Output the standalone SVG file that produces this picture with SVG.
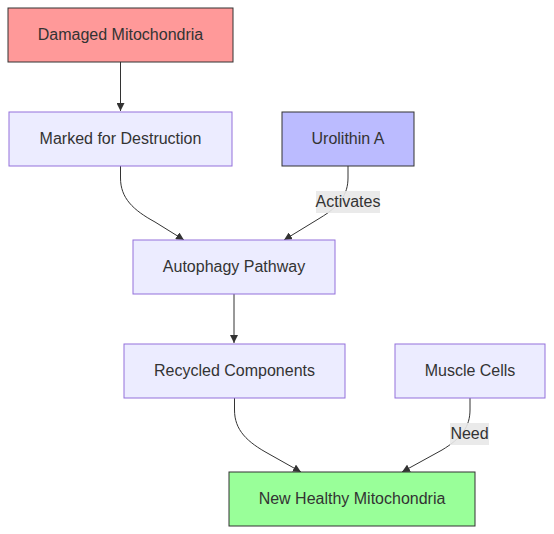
<svg xmlns="http://www.w3.org/2000/svg" width="554" height="534" viewBox="0 0 554 534">
<style>
.node rect{stroke-width:1px}
.def rect{fill:#ececff;stroke:#9370db}
.txt{font-family:"Liberation Sans",Arial,sans-serif;font-size:16px;fill:#333;text-anchor:middle;dominant-baseline:central}
.edge{fill:none;stroke:#333;stroke-width:1px}
.lbl{fill:#e8e8e8;opacity:0.9}
</style>
<defs>
<marker id="arr" viewBox="0 0 10 10" refX="10" refY="5" markerWidth="8" markerHeight="8" markerUnits="userSpaceOnUse" orient="auto">
<path d="M0,0 L10,5 L0,10 z" fill="#333"/>
</marker>
</defs>
<rect width="554" height="534" fill="#fff"/>
<g id="connectors">
<path class="edge" d="M120.5,62 L120.5,111" marker-end="url(#arr)"/>
<path class="edge" d="M120.5,166 L120.5,178 C120.5,198 133,210 155,222 L184,240" marker-end="url(#arr)"/>
<path class="edge" d="M348,166 L348,178 C348,194 340,206 320,218 L284,240" marker-end="url(#arr)"/>
<path class="edge" d="M234,294 L234,343" marker-end="url(#arr)"/>
<path class="edge" d="M234.5,398 L234.5,410 C234.5,430 247,442 269,454 L301,472" marker-end="url(#arr)"/>
<path class="edge" d="M470,398 L470,410 C470,426 462,438 442,450 L402,472" marker-end="url(#arr)"/>
<g id="label-activates">
<rect class="lbl" x="316" y="191" width="64" height="22"/>
<text class="txt" x="348" y="201.5">Activates</text>
</g>
<g id="label-need">
<rect class="lbl" x="450" y="423" width="39" height="22"/>
<text class="txt" x="469.5" y="433.5">Need</text>
</g>
</g>
<g id="damaged" class="node">
<rect x="8" y="8" width="225" height="54" fill="#ff9999" stroke="#333"/>
<text class="txt" x="120.5" y="34.5">Damaged Mitochondria</text>
</g>
<g id="marked" class="node def">
<rect x="9" y="112" width="223" height="54"/>
<text class="txt" x="120.5" y="138.5">Marked for Destruction</text>
</g>
<g id="urolithin" class="node">
<rect x="282" y="112" width="132" height="54" fill="#bbbbff" stroke="#333"/>
<text class="txt" x="348" y="138.5">Urolithin A</text>
</g>
<g id="autophagy" class="node def">
<rect x="133" y="240" width="202" height="54"/>
<text class="txt" x="234" y="266.5">Autophagy Pathway</text>
</g>
<g id="recycled" class="node def">
<rect x="124" y="344" width="221" height="54"/>
<text class="txt" x="234.5" y="370.5">Recycled Components</text>
</g>
<g id="muscle" class="node def">
<rect x="395" y="344" width="150" height="54"/>
<text class="txt" x="470" y="370.5">Muscle Cells</text>
</g>
<g id="newhealthy" class="node">
<rect x="229" y="472" width="246" height="54" fill="#99ff99" stroke="#333"/>
<text class="txt" x="352" y="498.5">New Healthy Mitochondria</text>
</g>
</svg>
